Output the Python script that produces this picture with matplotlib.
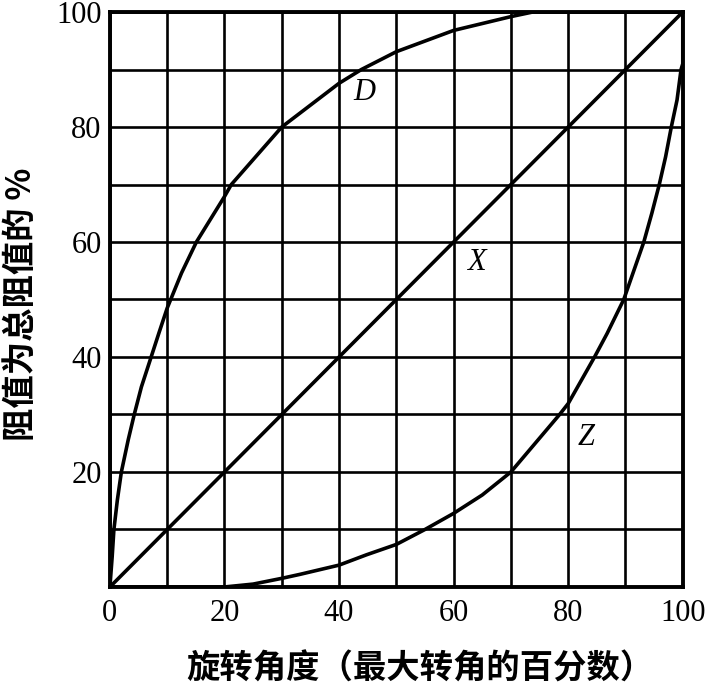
import matplotlib.pyplot as plt

plt.rcParams['font.family'] = ['Noto Sans CJK SC', 'DejaVu Sans']

# curve D (logarithmic taper)
d_x = [0, 0.4, 0.7, 1.3, 2.0, 3.2, 4.25, 5.5, 7.2, 8.6, 10, 12.5, 15.1, 20, 21.2,
       30, 40, 43.9, 50, 60, 70, 73.8, 100]
d_y = [0, 5.3, 10, 15.1, 20, 25.6, 30, 34.8, 40, 44.3, 48.5, 54.6, 60, 67.9, 70,
       80, 87.6, 90, 93.1, 96.8, 99.2, 100, 100]

# curve X (linear)
x_x = [0, 100]
x_y = [0, 100]

# curve Z (exponential taper)
z_x = [0, 20, 25, 30, 33.2, 40, 44.8, 50, 55, 60, 65, 70, 78.5, 80, 84.6,
       86.8, 89.7, 93.2, 94.6, 95.9, 97.0, 98.0, 99.0, 99.7, 100, 100]
z_y = [0, 0, 0.5, 1.5, 2.2, 3.8, 5.6, 7.4, 10, 12.8, 16, 20, 30, 31.9, 40,
       44.1, 50, 60, 65, 70, 74.8, 80, 84.7, 90, 91, 100]

# curve labels and where they sit
names = ['D', 'X', 'Z']
name_pos = [(44.5, 86), (63.9, 56.5), (83.2, 26)]

x_ticks = [0, 20, 40, 60, 80, 100]
y_ticks = [20, 40, 60, 80, 100]

fig = plt.figure(figsize=(7.09, 6.87), dpi=100)
ax = fig.add_axes([0.155, 0.1456, 0.808, 0.8369])

for xs, ys in [(d_x, d_y), (x_x, x_y), (z_x, z_y)]:
    ax.plot(xs, ys, color='black', lw=2.6, solid_joinstyle='round')

for name, (px, py) in zip(names, name_pos):
    ax.text(px, py, name, fontsize=22, family='Liberation Serif', style='italic',
            ha='center', va='center')

ax.set_xlim(0, 100)
ax.set_ylim(0, 100)
ax.set_xticks(x_ticks)
ax.set_yticks(y_ticks)
ax.set_xticks(range(0, 101, 10), minor=True)
ax.set_yticks(range(0, 101, 10), minor=True)
ax.grid(which='both', color='black', lw=1.9)
ax.tick_params(which='both', length=0)
ax.tick_params(axis='x', pad=9)
ax.tick_params(axis='y', pad=6)
for lab in ax.get_xticklabels() + ax.get_yticklabels():
    lab.set_family('Liberation Serif')
    lab.set_fontsize(22)

for sp in ax.spines.values():
    sp.set_linewidth(2.8)

ax.set_xlabel('旋转角度（最大转角的百分数）', fontsize=24, fontweight='bold')
ax.xaxis.label.set_va('center')
ax.xaxis.set_label_coords(0.541, -0.143)
ax.set_ylabel('阻值为总阻值的 %', fontsize=24, fontweight='bold')
ax.yaxis.label.set_va('center')
ax.yaxis.set_label_coords(-0.155, 0.492)

fig.savefig('out.png', dpi=100)
